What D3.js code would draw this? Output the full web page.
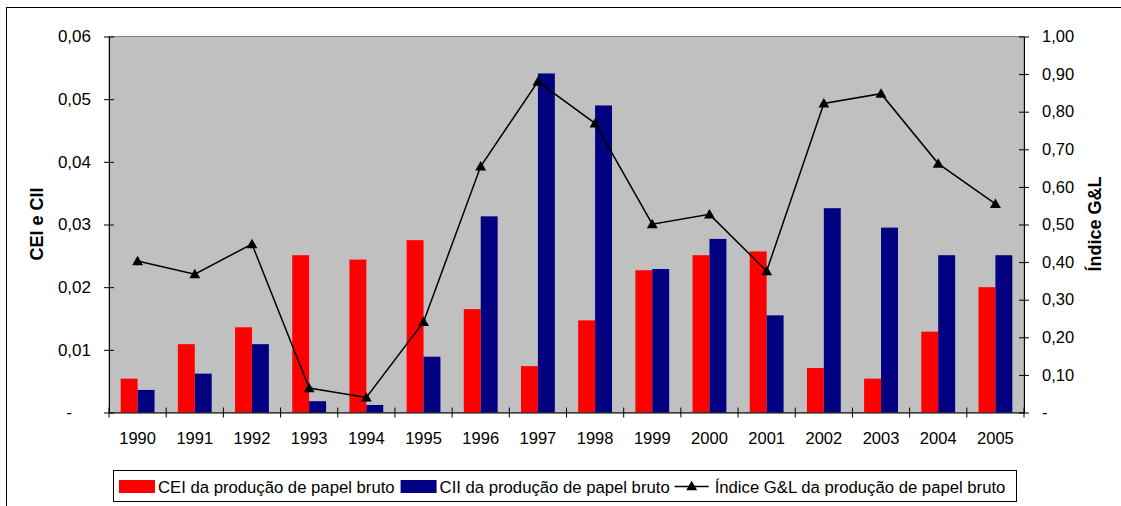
<!DOCTYPE html>
<html><head><meta charset="utf-8">
<script src="https://cdn.jsdelivr.net/npm/d3@7"></script>
<style>body{margin:0;background:#fff}svg{display:block;font-family:Arial,"Liberation Sans",sans-serif}</style>
</head><body><svg id="c" width="1121" height="506"></svg>
<script>
const years = ["1990","1991","1992","1993","1994","1995","1996","1997","1998","1999","2000","2001","2002","2003","2004","2005"];
const cei = [0.0054,0.0109,0.0136,0.0251,0.0244,0.0275,0.0165,0.0074,0.0147,0.0227,0.0251,0.0257,0.0071,0.0054,0.0129,0.0200];
const cii = [0.0036,0.0062,0.0109,0.0018,0.0012,0.0089,0.0313,0.0541,0.0490,0.0229,0.0277,0.0155,0.0326,0.0295,0.0251,0.0251];
const gl  = [0.403,0.368,0.448,0.065,0.040,0.241,0.655,0.880,0.769,0.501,0.527,0.376,0.822,0.848,0.662,0.555];
const leftTicks = [0,0.01,0.02,0.03,0.04,0.05,0.06];
const leftTickLabels = ["-","0,01","0,02","0,03","0,04","0,05","0,06"];
const rightTicks = [0,0.1,0.2,0.3,0.4,0.5,0.6,0.7,0.8,0.9,1.0];
const rightTickLabels = ["-","0,10","0,20","0,30","0,40","0,50","0,60","0,70","0,80","0,90","1,00"];
const seriesNames = ["CEI da produção de papel bruto","CII da produção de papel bruto","Índice G&L da produção de papel bruto"];
const leftTitle = "CEI e CII";
const rightTitle = "Índice G&L";

const FF = "Arial, 'Liberation Sans', sans-serif";
const svg = d3.select("#c");
const L = 109, R = 1024, T = 36.5, B = 412.5;
const x = d3.scaleBand().domain(years).range([L, R]).padding(0);
const xs = d3.scaleBand().domain(["cei","cii"]).range([0, x.bandwidth()]).paddingInner(0).paddingOuter(0.69);
const yL = d3.scaleLinear().domain([0, 0.06]).range([B, T]);
const yR = d3.scaleLinear().domain([0, 1]).range([B, T]);

// outer chart border
svg.append("rect").attr("x",6.5).attr("y",7.5).attr("width",1200).attr("height",600)
  .attr("fill","none").attr("stroke","#000").attr("stroke-width",1);

// plot area
svg.append("rect").attr("x",L).attr("y",T).attr("width",R-L).attr("height",B-T)
  .attr("fill","#C0C0C0").attr("stroke","#808080").attr("stroke-width",1);

// bars
const g = svg.append("g");
years.forEach((yr,i)=>{
  g.append("rect").attr("x",x(yr)+xs("cei")).attr("y",yL(cei[i])).attr("width",xs.bandwidth()).attr("height",B-yL(cei[i])).attr("fill","#FF0000");
  g.append("rect").attr("x",x(yr)+xs("cii")).attr("y",yL(cii[i])).attr("width",xs.bandwidth()).attr("height",B-yL(cii[i])).attr("fill","#000080");
});

// left axis
const axL = d3.axisLeft(yL).tickValues(leftTicks).tickFormat((d,i)=>leftTickLabels[i]).tickSizeInner(5).tickSizeOuter(0).tickPadding(13);
const gL = svg.append("g").attr("transform",`translate(${L},0)`).call(axL);
gL.selectAll(".tick line").attr("x1",5).attr("stroke","#000");
gL.select(".domain").attr("stroke","#000");
gL.selectAll("text").attr("font-size",17).attr("fill","#000").attr("font-family",FF);
gL.selectAll(".tick text").filter((d,i)=>i===0).attr("x",-37);

// right axis
const axR = d3.axisRight(yR).tickValues(rightTicks).tickFormat((d,i)=>rightTickLabels[i]).tickSizeInner(5).tickSizeOuter(0).tickPadding(13);
const gR = svg.append("g").attr("transform",`translate(${R},0)`).call(axR);
gR.selectAll(".tick line").attr("x1",-5).attr("stroke","#000");
gR.select(".domain").attr("stroke","#000");
gR.selectAll("text").attr("font-size",16.5).attr("fill","#000").attr("font-family",FF);

// bottom axis
const axB = d3.axisBottom(x).tickSize(0).tickPadding(0);
const gB = svg.append("g").attr("transform",`translate(0,${B})`).call(axB);
gB.select(".domain").attr("stroke","#000");
gB.selectAll(".tick text").attr("dy",null).attr("y",31.5).attr("font-size",16.5).attr("fill","#000").attr("font-family",FF);
const bounds = years.map(y=>x(y)).concat([R]);
gB.selectAll(".bt").data(bounds).enter().append("line")
  .attr("x1",d=>d).attr("x2",d=>d).attr("y1",-5).attr("y2",5).attr("stroke","#000");

// line series
const line = d3.line().x((d,i)=>x(years[i])+x.bandwidth()/2).y(d=>yR(d));
svg.append("path").datum(gl).attr("d",line).attr("fill","none").attr("stroke","#000").attr("stroke-width",1.5);
const tri = d3.symbol().type(d3.symbolTriangle).size(52);
svg.selectAll(".mk").data(gl).enter().append("path")
  .attr("transform",(d,i)=>`translate(${x(years[i])+x.bandwidth()/2},${yR(d)+1})`)
  .attr("d",tri).attr("fill","#000");

// axis titles
svg.append("text").attr("transform","translate(42.5,224) rotate(-90)").attr("text-anchor","middle")
  .attr("font-size",18).attr("font-weight","bold").text(leftTitle);
svg.append("text").attr("transform","translate(1101,224) rotate(-90)").attr("text-anchor","middle")
  .attr("font-size",18).attr("font-weight","bold").text(rightTitle);

// legend
const lg = svg.append("g");
lg.append("rect").attr("x",113.5).attr("y",470.5).attr("width",903).attr("height",31).attr("fill","#fff").attr("stroke","#000");
const ty = 493, fs = 16.7;
let cx = 119;
lg.append("rect").attr("x",cx).attr("y",480).attr("width",36).attr("height",13).attr("fill","#FF0000");
cx += 39;
let t = lg.append("text").attr("x",cx).attr("y",ty).attr("font-size",fs).text(seriesNames[0]);
cx += t.node().getComputedTextLength() + 6;
lg.append("rect").attr("x",cx).attr("y",480).attr("width",36).attr("height",13).attr("fill","#000080");
cx += 39;
t = lg.append("text").attr("x",cx).attr("y",ty).attr("font-size",fs).text(seriesNames[1]);
cx += t.node().getComputedTextLength() + 5;
lg.append("line").attr("x1",cx).attr("x2",cx+34).attr("y1",486.5).attr("y2",486.5).attr("stroke","#000").attr("stroke-width",1.5);
lg.append("path").attr("transform",`translate(${cx+17},487)`).attr("d",tri).attr("fill","#000");
cx += 40;
lg.append("text").attr("x",cx).attr("y",ty).attr("font-size",fs).text(seriesNames[2]);
</script></body></html>
